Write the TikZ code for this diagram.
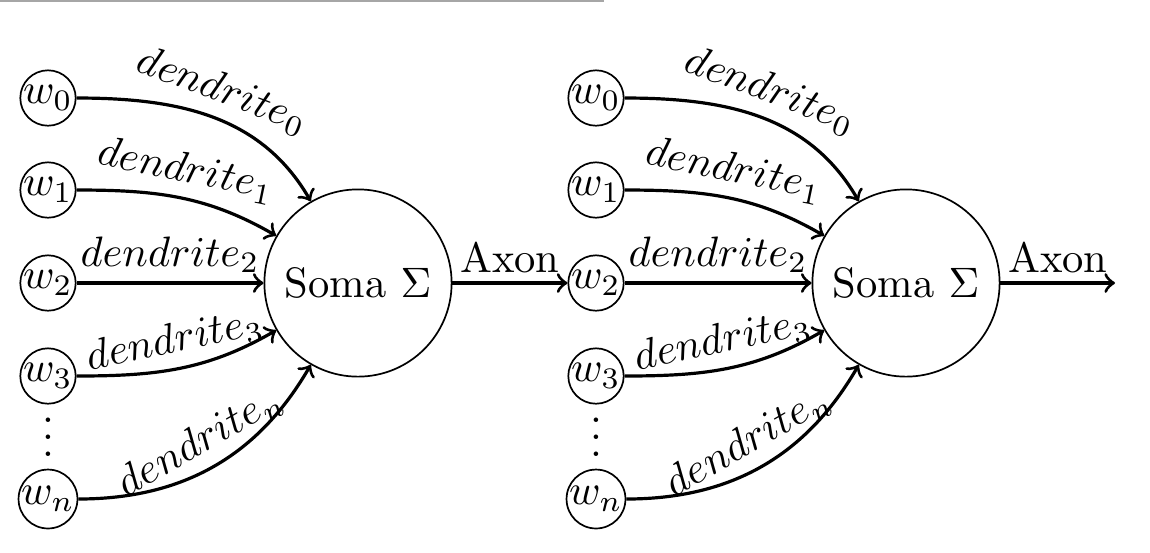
\documentclass[tikz,border=0pt]{standalone}
\begin{document}
\begin{tikzpicture}[x=0.235pt,y=0.235pt,
  wnode/.style={circle,draw,inner sep=0pt,line width=0.4pt},
  soma/.style={circle,draw,minimum size=44pt,inner sep=0pt,line width=0.4pt},
  dend/.style={->,line width=0.75pt},
  lbl/.style={midway,above,sloped,inner sep=2pt}]
\useasboundingbox (0,0) rectangle (1150,552);
\draw[gray!70,line width=0.45pt] (0,551) -- (604,551);
\foreach \p/\dx in {a/0,b/548}{
  \node[wnode] (\p-w0) at (48+\dx,454) {$w_0$};
  \node[wnode] (\p-w1) at (48+\dx,362) {$w_1$};
  \node[wnode] (\p-w2) at (48+\dx,269) {$w_2$};
  \node[wnode] (\p-w3) at (48+\dx,176) {$w_3$};
  \node (\p-dots) at (48+\dx,128) {$\vdots$};
  \node[wnode] (\p-wn) at (48+\dx,53) {$w_n$};
  \node[soma] (\p-s) at (358+\dx,269) {Soma $\Sigma$};
  \draw[dend] (\p-w0) to[out=0,in=120] node[lbl]{$dendrite_0$} (\p-s);
  \draw[dend] (\p-w1) to[out=0,in=150] node[lbl]{$dendrite_1$} (\p-s);
  \draw[dend] (\p-w2) -- node[lbl]{$dendrite_2$} (\p-s);
  \draw[dend] (\p-w3) to[out=0,in=210] node[lbl]{$dendrite_3$} (\p-s);
  \draw[dend] (\p-wn) to[out=0,in=240] node[lbl]{$dendrite_n$} (\p-s);
}
\coordinate (out) at (1115,269);
\draw[dend] (a-s) -- node[above,inner sep=2pt]{Axon} (b-w2);
\draw[dend] (b-s) -- node[above,inner sep=2pt]{Axon} (out);
\end{tikzpicture}
\end{document}
